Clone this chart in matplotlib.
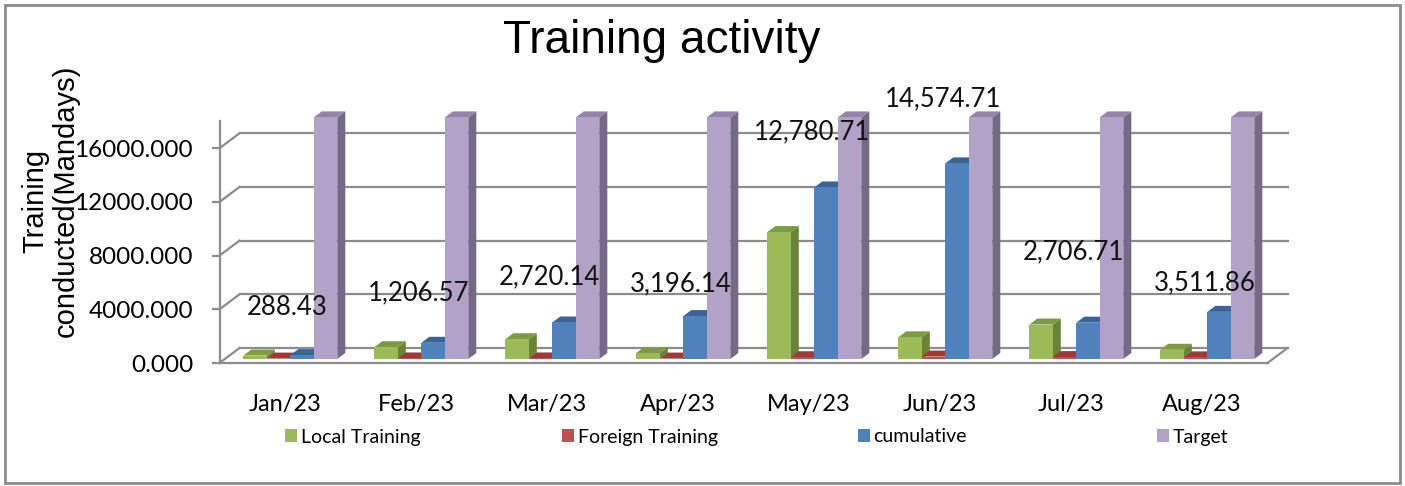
import matplotlib
matplotlib.use('Agg')
import matplotlib.pyplot as plt
from matplotlib.patches import Polygon, Patch, Rectangle
from matplotlib.ticker import FuncFormatter
import numpy as np

months = ['Jan/23', 'Feb/23', 'Mar/23', 'Apr/23', 'May/23', 'Jun/23', 'Jul/23', 'Aug/23']
local_training = [258, 878, 1474, 446, 9455, 1614, 2567, 685]
foreign_training = [30, 40, 40, 30, 130, 180, 140, 120]
cumulative = [288.43, 1206.57, 2720.14, 3196.14, 12780.71, 14574.71, 2706.71, 3511.86]
target = [18000, 18000, 18000, 18000, 18000, 18000, 18000, 18000]
series_names = ['Local Training', 'Foreign Training', 'cumulative', 'Target']

# label nudges above the cumulative bars (the data labels were dragged by hand)
label_lift = [3810, 4010, 3690, 2690, 4430, 5090, 5560, 2450]

# front / top / side colours per series
colors = [
    ('#9bbb59', '#7d9a45', '#6a8437'),
    ('#c0504d', '#9b3a37', '#8a3431'),
    ('#4f81bd', '#3b6495', '#3d6594'),
    ('#b3a2c7', '#9485a8', '#766887'),
]
grey = '#8c8c8c'

W, H = 1405, 486
fig = plt.figure(figsize=(W / 100, H / 100), dpi=100)
plt.rcParams['font.family'] = 'Lato'

# axes = the front plane of the 3d box
ax_left, ax_bottom_px, ax_w, ax_h = 219.5, 363, 1048, 241.6
ax = fig.add_axes([ax_left / W, (H - ax_bottom_px) / H, ax_w / W, ax_h / H])
ax.set_xlim(-0.5, 7.5)
ax.set_ylim(0, 18000)

px_x = 1 / 131.0          # category units per pixel
px_y = 18000 / ax_h       # value units per pixel
depth_x, depth_y = 20 * px_x, 15 * px_y
bar_x, bar_y = 8 * px_x, 6 * px_y
off_x, off_y = 5.3 * px_x, 4 * px_y
bar_w = 23.5 * px_x

# side wall diagonals + back gridlines
yticks = [0, 4000, 8000, 12000, 16000]
for v in yticks:
    ax.plot([-0.5, -0.5 + depth_x], [v, v + depth_y], color=grey, lw=1.6, zorder=1, clip_on=False)
    ax.plot([-0.5 + depth_x, 7.5 + depth_x], [v + depth_y, v + depth_y], color=grey, lw=1.6,
            zorder=1, clip_on=False)
ax.plot([7.5, 7.5 + depth_x], [0, depth_y], color=grey, lw=1.6, zorder=1, clip_on=False)

all_series = [local_training, foreign_training, cumulative, target]
x = np.arange(len(months))
z = 2
for i in range(len(months)):
    for k, vals in enumerate(all_series):
        v = vals[i]
        front, top, side = colors[k]
        x0 = x[i] + (k - 2) * bar_w + off_x
        x1 = x0 + bar_w
        y0 = off_y
        y1 = off_y + v
        side_pts = [(x1, y0), (x1 + bar_x, y0 + bar_y), (x1 + bar_x, y1 + bar_y), (x1, y1)]
        top_pts = [(x0, y1), (x0 + bar_x, y1 + bar_y), (x1 + bar_x, y1 + bar_y), (x1, y1)]
        ax.add_patch(Polygon(side_pts, closed=True, fc=side, ec='none', zorder=z, clip_on=False))
        ax.add_patch(Polygon(top_pts, closed=True, fc=top, ec='none', zorder=z, clip_on=False))
        ax.add_patch(Rectangle((x0, y0), bar_w, v, fc=front, ec='none', zorder=z, clip_on=False))
        z += 0.01

for i, v in enumerate(cumulative):
    ax.text(x[i] + 0.02, v + label_lift[i], f'{v:,.2f}', ha='center', va='center',
            fontsize=18.5, color='#111111', zorder=20)

for s in ['top', 'right']:
    ax.spines[s].set_visible(False)
for s in ['left', 'bottom']:
    ax.spines[s].set_color(grey)
    ax.spines[s].set_linewidth(1.6)
ax.patch.set_visible(False)

ax.set_yticks(yticks)
ax.yaxis.set_major_formatter(FuncFormatter(lambda v, _: f'{v:.3f}'))
ax.tick_params(axis='y', length=6, width=1.6, color=grey, pad=13, labelsize=17.5)
ax.set_xticks(x)
ax.set_xticklabels(months)
ax.tick_params(axis='x', length=0, pad=22, labelsize=17)

ax.set_ylabel('Training\nconducted(Mandays)', family='Liberation Sans', fontsize=21,
              linespacing=1.1)
ax.yaxis.set_label_coords((80 - ax_left) / ax_w, (ax_bottom_px - 201) / ax_h)

fig.text(662 / W, 1 - 53 / H, 'Training activity', family='Liberation Sans', fontsize=33,
         ha='center', va='baseline')

legend_x = [285, 562, 858, 1157]
for k, name in enumerate(series_names):
    h = Patch(facecolor=colors[k][0], edgecolor='none', label=name)
    fig.legend(handles=[h], loc='center left', bbox_to_anchor=(legend_x[k] / W, 1 - 437 / H),
               frameon=False, fontsize=14, borderpad=0, borderaxespad=0,
               handlelength=0.6, handleheight=0.6, handletextpad=0.2)

fig.add_artist(Rectangle((5 / W, 3 / H), 1395 / W, 478 / H, transform=fig.transFigure,
                         fill=False, ec=grey, lw=2))

fig.savefig('out.png', dpi=100)
